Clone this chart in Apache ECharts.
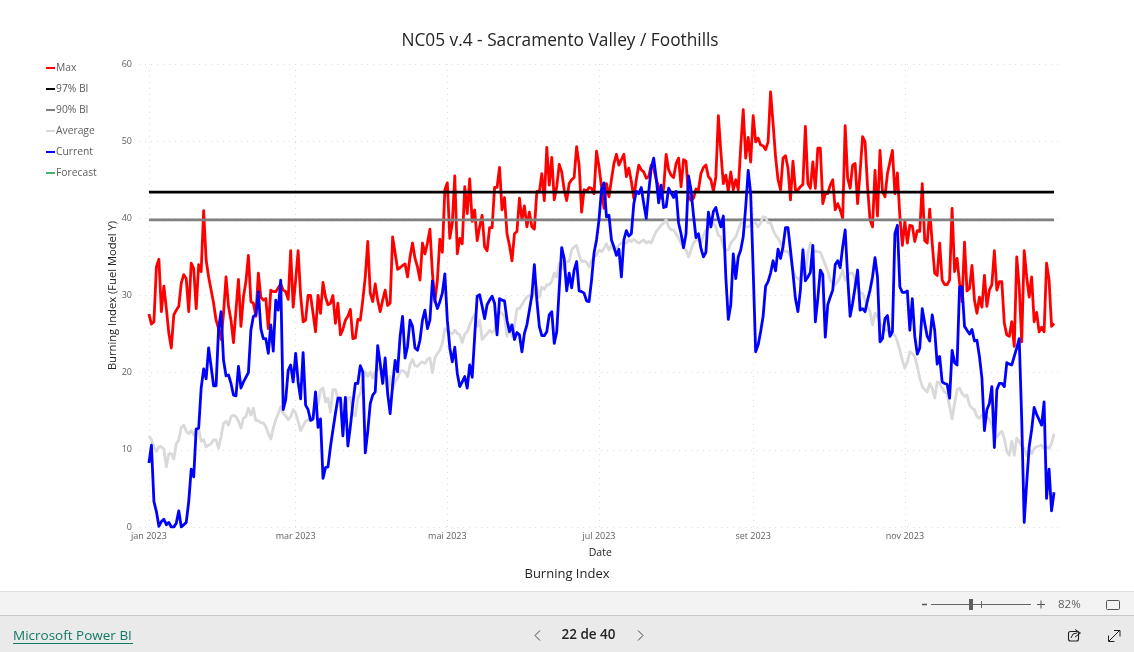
<!DOCTYPE html>
<html><head><meta charset="utf-8">
<style>html,body{margin:0;padding:0;background:#fff}#c{width:1134px;height:652px}</style>
<script src="https://cdn.jsdelivr.net/npm/echarts@6/dist/echarts.min.js"></script>
</head><body><div id="c"></div>
<script>
const maxBI = [
27.6,26.3,26.6,33.7,34.7,27.9,31.2,28.3,25.1,23.2,
27.5,28.1,28.6,31.6,32.7,32.2,27.9,34.2,33.5,28.3,
34,33.1,41,34.6,32.4,30.7,29,26.8,25.7,24.3,
27.7,32.4,28.6,26.8,23.9,28.1,32.1,26,29.8,31.8,
35.2,29.2,29,27.3,32.9,29.8,29.4,29.6,25.7,30.7,
30.5,30.5,31,31.5,30.7,30.5,29.5,35.8,28.5,32,
35.8,30,26.6,26.8,30,30,27.7,25.3,30,27.7,
31.7,29.8,28.8,29,30,26.4,29,24.9,25.6,26.8,
27.3,28.2,24.4,24.5,26.9,26.8,29.4,32.4,37,30.3,
29.2,31.5,29.4,27.9,29.4,30.7,28.7,29,37.6,35.5,
33.4,33.6,33.9,34.1,32.4,35,36.8,34.8,33.7,32,
36.8,35.4,36.8,38.6,32.9,29.2,32,37.3,35.6,43.7,
44.6,37.4,39.4,45.5,35.4,37.4,36.7,44.1,40.6,45.1,
39.6,41.1,37.1,38.9,40.4,36.3,35.8,38.8,38.8,44,
44,46.6,41.1,42.7,38,36.5,34.5,38,38.3,42.6,
39.8,41.6,38.9,40.8,38.9,38.6,43.5,43.4,45.8,42.3,
49.2,44.3,47.9,42.4,44.1,47,46,43.7,42.3,44.5,
45,45.3,49.3,46.9,40.8,43.7,43.5,44,43.9,43.2,
48.7,46.7,44.1,41.3,44.5,42.8,45,47.1,48.3,46.9,
47.6,48.3,45.4,46.5,44.8,42.6,45,46.9,46.3,46,
45.2,45.4,46.9,46.5,45,44.1,42.6,43.9,48.3,46.3,
45.6,45.3,47.1,47.8,44.1,47.6,47.4,42.8,42.3,42.6,
43.8,43.7,45.8,46.6,46.9,45.4,45,43.5,45.4,53.3,
48.6,44.5,45.6,43.5,46,43.7,45,43.7,49.3,54.1,
47.8,50.5,47.3,53.3,49.9,50.4,49.5,49.4,48.9,49.9,
56.4,52.3,48,45,43.7,47.8,48.1,46.5,42.4,47.4,
43.7,43.7,44.1,44.4,51.9,44.5,43.9,47.3,43.9,49.1,
49.1,41.9,43.2,43.2,44.3,45,41.1,41.9,41.1,40,
52,45.2,43.9,46.9,47.1,41.9,46,50.6,49.9,44.1,
39.8,38.9,46.2,40.3,48.8,43.5,42.8,45.8,47.3,48.8,
43.2,45.9,40.2,36.5,39.6,36.8,39.1,39,37,38.4,
38.3,44.5,37.1,36.8,41.2,36.8,32.9,32.6,36.8,32,
31.4,31.4,32,41.3,33.1,34.8,31.6,29.2,36.9,30.6,
30.9,33.9,29.4,27.7,29.8,28.5,32.6,28.6,30.7,31.4,
35.8,30.7,31.8,31.8,26.4,24.9,24.7,26.6,23.4,35,
31.1,24,35.8,32.4,29.8,32.4,26.6,27.8,25.3,25.9,
25.3,34.2,32,26,26.4];
const biP97 = Array.from(maxBI, () => 43.4);
const biP90 = Array.from(maxBI, () => 39.8);
const averageBI = [
11.8,11.3,10.3,9.8,10.4,10.4,10.1,7.8,9.5,9.5,
8.8,10.8,11.3,12.9,13.2,12.4,12.1,12.5,11.9,12.7,
12.7,11.1,11.3,10.4,10.6,10.8,11.3,11.3,10.2,11.7,
13.4,13.7,13.2,14.3,14.5,14.3,13.7,12.8,14.1,14.3,
15.4,14.5,15.4,13.8,13.8,13.5,13.5,13,12.1,11.4,
12.8,13.9,14.7,15.6,14.7,14.4,13.9,14.3,15.2,14.8,
13.7,12.5,13.1,13.7,13.9,14.1,14.3,15.6,15.8,17.8,
18,16.2,16.7,14.9,17.8,17.8,16.7,16.8,15.8,15.2,
16.7,16.8,14.7,14.4,16.7,17.3,19,20.1,19.5,20.1,
19.3,20.1,20.4,20.8,19.7,19,17.5,19.5,17.8,18.8,
19.3,20.1,20.3,20.1,19.5,21,21.7,20.9,20.8,21.2,
21.4,21.2,21.7,21.9,20,21.9,22.5,22.9,23.8,25.7,
25.4,25.2,25,25.5,25.1,24.9,23.9,25,25.3,26.2,
27,27.5,26,26.8,24.3,24.7,25,25.5,25.2,25.5,
27.5,27.9,27.7,27.3,24.7,26.2,24.7,26,28.3,28.3,
28.8,29.4,29.8,30,29.8,30.3,31.1,29.8,31.1,30.8,
31.4,31.4,31.8,32.9,32.4,34.2,34.2,33.3,34.4,34.4,
35.9,36.3,36.5,35.2,34.4,34.5,34.3,33.7,34.6,35,
35.2,35.9,35.7,36.1,36.7,35.9,36.5,35.9,36.1,36.5,
36.8,36.8,36.8,37.2,37,37.3,37,36.8,37,37.2,
36.8,37,36.8,37.6,38.3,38.7,39.1,39.4,39.8,38.9,
38.5,38.5,38,37.4,36.8,36.1,35.9,35,35.9,36.8,
37.2,37.2,36.8,37.8,38.5,38.7,38.9,39.4,38.9,37.8,
37.6,36.3,35.9,35.9,36.8,37.2,37.6,38.5,39.4,39.6,
38.9,38.9,39.1,39.4,39.4,38.9,39.4,40.2,40.1,39.4,
39.4,38.5,37.8,37.4,36.8,35.9,35.7,35.7,35,33.3,
32.4,32.2,32,36.1,32.4,35.5,36.8,35.9,35.7,35.7,
35.6,34.8,34,33.1,32,31.4,31.4,31.8,32.4,33.3,
32,32.6,32.9,32.9,32,31.1,30.3,30.3,29.4,28.6,
27.9,26.2,27.7,27.3,26.4,26,25.5,25.5,25.1,24.9,
24.9,24,22.9,21.6,20.6,21.4,22.7,22.5,22.1,20.8,
19.3,18.2,17.8,17.5,18.6,18,16.7,18.8,18.6,18,
17.5,17.3,15.6,14,16,17.8,18,17.3,16.9,17.1,
15.8,15.4,15.2,14.3,14.1,14.5,14.1,14.3,13.9,13.2,
11.9,11.7,12.1,12.4,11.5,9.8,9.3,11.1,9.3,11.5,
11.1,10.4,10.2,9.3,10,9.5,10.2,10.4,10.5,10.6,
10.2,10.4,10.2,10.8,12.1];
const currentBI = [
8.3,10.6,3.3,2,0.1,0.7,1,0.3,0.6,0,
0,0.5,2.1,0,0.3,0.6,3.3,7.5,6.5,12.7,
12.8,18,20.5,19.2,23.2,20.8,18.3,18.3,25.7,27.9,
21.6,19.6,19.7,18.6,17.1,17,20.8,18,18.8,19.4,
20,25.5,27.3,27.5,30.5,25.7,24.4,24.4,22.5,26.2,
22.8,29.4,28.1,32,15.2,16.5,20.3,21,18.8,22.5,
18.8,16.6,22.6,15.8,15.2,13.8,14,17.5,12.9,14,
6.3,7.7,7.8,10.4,12.6,14.7,16.7,16.7,11.8,16.8,
10.5,13,16,18.6,18.6,20.9,20.1,9.6,12.4,16,
17.1,17.5,23.5,21.2,18.6,21.9,17.3,14.7,18.4,21.6,
20.1,24.7,27.3,21.9,23.4,26.8,26,23.2,22.9,24.2,
26.8,28.1,25.7,26.8,31.9,29.4,28.3,29.2,30.3,32.8,
26.8,23.2,21.4,23.3,19.9,18.2,18.8,19.5,18,21,
19.4,24.7,29.9,30.1,28.6,27,28.8,29.4,29.9,29,
24.9,29.6,29.4,29.3,26.8,25.3,26.2,24.3,25.2,24.9,
22.7,25.1,26.2,28.1,30,34,29.4,26,24.8,24.8,
25.3,27.5,27.9,23.8,25.3,30.9,36.2,34.8,30.6,32.9,
31,33.3,34.4,30.6,30.5,30.3,29.3,29.2,32,35.5,
37.2,39.8,43.7,44.6,40.2,40.4,37.2,36.3,35.2,36,
32.4,37.2,38.4,37.7,38,41.9,43.5,43.2,44,41.9,
40,43.5,46.5,47.8,45.2,42,44.3,41.4,41.5,43.9,
43.3,42.7,43.5,39.4,38,36.2,38,45.5,43.7,40.4,
37.5,38,36.1,35,35.6,40.8,38.9,40.9,41.4,40,
38.9,40.3,32.4,26.9,28.8,35.4,32.2,35,35.9,37.6,
41.5,46.2,43.2,33.3,22.7,23.6,25.3,27.3,31.2,31.8,
32.9,34.5,33.2,36,34.8,36.3,38.8,38.8,35.9,32.9,
29.6,27.9,30.7,35.9,31.9,32.4,33,36.5,26.6,29.6,
33.3,32.7,24.6,28.8,29.8,30.7,34,34.5,33.6,36.3,
38.5,32.4,27.3,29,31.1,33.3,28.1,28.3,27.9,29.4,
30.7,32.4,34.9,32.4,24,24.4,27,27.4,24.7,25.3,
38,39.1,31.1,30.4,30.4,30.6,25.5,29.6,24.7,22.4,
23.2,28.3,26.4,24.7,24.1,27.5,25.5,21.1,22.1,18.8,
18.6,18.5,16.7,22.9,21.3,21,31.1,31.1,26,25.5,
25,25.6,24.1,24.2,22.1,19.3,12.5,15.2,16,18.2,
10.3,17.8,18.6,18.6,18.2,21.3,21.1,21,22.1,23.2,
24.4,13.9,0.6,5.7,10.4,12.6,15.5,14.6,13.9,13.2,
16.2,3.7,7.5,2.1,4.5];
const forecastBI = [];
const seriesNames = ['Max','97% BI','90% BI','Average','Current','Forecast'];
const monthNames = ['jan','fev','mar','abr','mai','jun','jul','ago','set','out','nov','dez'];
const tickMonths = ['jan 2023','mar 2023','mai 2023','jul 2023','set 2023','nov 2023'];
const yTicks = [0,10,20,30,40,50,60];

const padL = 4, padR = 3;
const cats = [];
for (let i = -padL; i < 365 + padR; i++) {
  const d = new Date(Date.UTC(2023, 0, 1 + i));
  cats.push(d.getUTCDate() === 1 && d.getUTCFullYear() === 2023 ? monthNames[d.getUTCMonth()] + ' 2023' : '');
}
const isTick = (i, v) => tickMonths.includes(cats[i]);
const pad = a => Array(padL).fill(null).concat(a, Array(padR).fill(null));
const FONT = '"Open Sans", "Noto Sans", sans-serif';
const line = (name, data, color, width) => ({
  name, type: 'line', data: pad(data), showSymbol: false, symbol: 'none', smooth: false,
  connectNulls: false, animation: false, silent: true,
  lineStyle: { color, width, join: 'round' }, itemStyle: { color }
});
const ln = (x1, y1, x2, y2, stroke, lw) => ({ type: 'line', silent: true, shape: { x1, y1, x2, y2 }, style: { stroke, lineWidth: lw || 1 } });
const rect = (x, y, width, height, fill) => ({ type: 'rect', silent: true, shape: { x, y, width, height }, style: { fill } });
const txt = (x, y, text, size, fill, align, weight) => ({ type: 'text', silent: true, x, y, style: { text, fontSize: size, fill, fontFamily: FONT, align: align || 'left', verticalAlign: 'middle', fontWeight: weight || 'normal' } });
const poly = (points, stroke, lw) => ({ type: 'polyline', silent: true, shape: { points }, style: { stroke, lineWidth: lw || 1, fill: 'none' } });

const chart = echarts.init(document.getElementById('c'), null, { renderer: 'canvas' });
chart.setOption({
  animation: false,
  backgroundColor: '#fff',
  title: { text: 'NC05 v.4 - Sacramento Valley / Foothills', left: 555, top: 28, textAlign: 'center',
    textStyle: { fontFamily: FONT, fontSize: 17.3, fontWeight: 'normal', color: '#252423' } },
  legend: { orient: 'vertical', left: 41, top: 58, itemWidth: 9, itemHeight: 2, itemGap: 11, icon: 'rect', selectedMode: false,
    data: seriesNames, textStyle: { fontFamily: FONT, fontSize: 10.3, color: '#605e5c', padding: [0, 0, 0, -4] } },
  grid: { left: 139, right: 72.5, top: 64, bottom: 125, containLabel: false },
  xAxis: { type: 'category', data: cats, boundaryGap: false, name: 'Date', nameLocation: 'middle', nameGap: 21,
    nameTextStyle: { fontFamily: FONT, fontSize: 10.5, color: '#252423' },
    axisLine: { show: false }, axisTick: { show: false },
    axisLabel: { interval: isTick, fontFamily: FONT, fontSize: 9, color: '#605e5c', margin: 5, hideOverlap: false },
    splitLine: { show: true, interval: isTick, lineStyle: { color: '#dcdcdc', type: [1, 5], width: 1 } } },
  yAxis: { type: 'value', min: yTicks[0], max: yTicks[yTicks.length - 1], interval: 10,
    name: 'Burning Index (Fuel Model Y)', nameLocation: 'middle', nameGap: 21, nameMoveOverlap: false,
    nameTextStyle: { fontFamily: FONT, fontSize: 11.2, color: '#252423' },
    axisLine: { show: false }, axisTick: { show: false },
    axisLabel: { fontFamily: FONT, fontSize: 9, color: '#605e5c', margin: 7 },
    splitLine: { show: true, lineStyle: { color: '#dcdcdc', type: [1, 5], width: 1 } } },
  series: [
    line(seriesNames[0], maxBI, '#ff0000', 2.8),
    line(seriesNames[1], biP97, '#000000', 2.8),
    line(seriesNames[2], biP90, '#808080', 2.8),
    line(seriesNames[3], averageBI, '#d9d9d9', 2.8),
    line(seriesNames[4], currentBI, '#0000ff', 2.8),
    line(seriesNames[5], forecastBI, '#4caf6e', 2.8)
  ],
  graphic: { elements: [
    txt(567, 574.5, 'Burning Index', 13, '#252423', 'center'),
    rect(0, 592, 1134, 23, '#f3f3f3'),
    ln(0, 591.5, 1134, 591.5, '#e1e1e1'),
    rect(0, 615, 1134, 37, '#eaeaea'),
    ln(0, 615.5, 1134, 615.5, '#c8c8c8'),
    txt(13, 636, 'Microsoft Power BI', 13.5, '#117865'),
    ln(13, 643.5, 133, 643.5, '#117865'),
    poly([[540, 630.5], [535, 635.5], [540, 640.5]], '#444'),
    txt(588.5, 635, '22 de 40', 13.5, '#252423', 'center', 600),
    poly([[638, 630.5], [643, 635.5], [638, 640.5]], '#444'),
    ln(922, 604.5, 927, 604.5, '#555', 1.5),
    ln(931, 604.5, 1031, 604.5, '#666'),
    rect(969, 599, 4, 11, '#605e5c'),
    ln(981.5, 601, 981.5, 608, '#666'),
    ln(1037, 604.5, 1045, 604.5, '#555', 1),
    ln(1041, 600.5, 1041, 608.5, '#555', 1),
    txt(1058, 605, '82%', 11.5, '#605e5c'),
    { type: 'rect', silent: true, shape: { x: 1106.5, y: 600.5, width: 13, height: 9, r: 1 }, style: { fill: 'none', stroke: '#555' } },
    { type: 'rect', silent: true, shape: { x: 1068.5, y: 631.5, width: 10, height: 9.5, r: 2 }, style: { fill: 'none', stroke: '#222', lineWidth: 1.1 } },
    poly([[1071, 638], [1073, 634], [1077, 633]], '#222'),
    poly([[1075, 629.5], [1080.5, 633], [1075, 637]], '#222'),
    ln(1109, 641, 1120, 630, '#222'),
    poly([[1114, 630.5], [1120, 630.5], [1120, 636.5]], '#222'),
    poly([[1108.5, 635.5], [1108.5, 641.5], [1114.5, 641.5]], '#222')
  ] }
});
</script></body></html>
